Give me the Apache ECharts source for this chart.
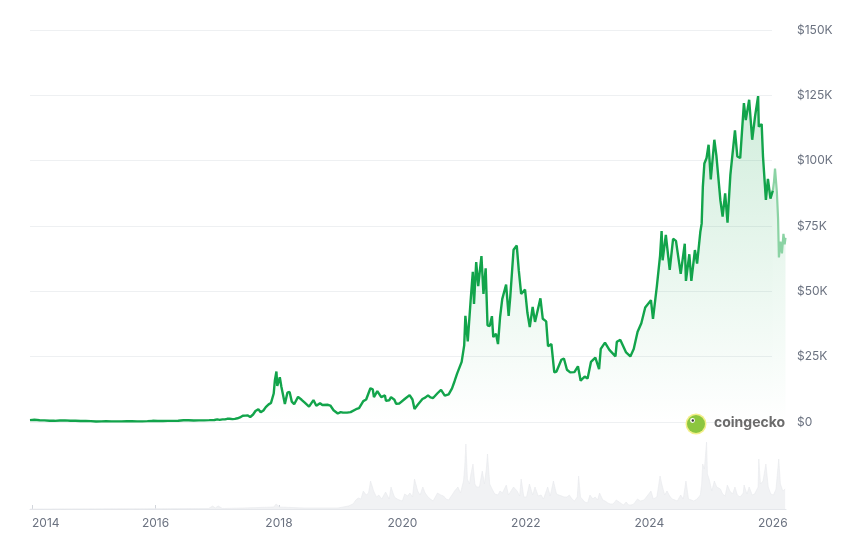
<!DOCTYPE html>
<html><head><meta charset="utf-8">
<script src="https://cdn.jsdelivr.net/npm/echarts@6/dist/echarts.min.js"></script>
<style>html,body{margin:0;padding:0;background:#fff}#c{width:857px;height:544px}</style>
</head><body><div id="c"></div>
<script>
// Bitcoin price (USD) – history up to end of 2025
const priceHistory = [
['2013-12-20',700],['2014-01-15',850],['2014-02-15',650],['2014-03-15',630],['2014-04-15',500],['2014-05-15',450],
['2014-06-15',600],['2014-07-15',620],['2014-08-15',500],['2014-09-15',470],['2014-10-15',390],['2014-11-15',400],
['2014-12-15',350],['2015-01-15',210],['2015-02-15',235],['2015-03-15',285],['2015-04-15',225],['2015-05-15',237],
['2015-06-15',236],['2015-07-15',285],['2015-08-15',260],['2015-09-15',230],['2015-10-15',255],['2015-11-15',330],
['2015-12-15',450],['2016-01-15',390],['2016-02-15',400],['2016-03-15',415],['2016-04-15',430],['2016-05-15',455],
['2016-06-15',690],['2016-07-15',665],['2016-08-15',570],['2016-09-15',610],['2016-10-15',640],['2016-11-15',710],
['2016-12-15',780],['2017-01-01',1000],['2017-01-15',820],['2017-02-01',990],['2017-02-15',1010],['2017-03-01',1220],
['2017-03-15',1250],['2017-04-01',1080],['2017-04-15',1180],['2017-05-01',1420],['2017-05-15',1730],['2017-06-01',2400],
['2017-06-12',2950],['2017-06-15',2450],['2017-07-01',2500],['2017-07-15',1920],['2017-08-01',2870],['2017-08-15',4200],
['2017-09-01',4900],['2017-09-15',3700],['2017-10-01',4400],['2017-10-15',5700],['2017-11-01',6750],['2017-11-15',7300],
['2017-12-01',10900],['2017-12-08',16000],['2017-12-17',19300],['2017-12-22',13800],['2018-01-06',17100],['2018-01-15',13600],
['2018-02-05',6900],['2018-02-20',11200],['2018-03-05',11500],['2018-03-18',7800],['2018-04-01',6800],['2018-04-24',9600],
['2018-05-15',8500],['2018-06-01',7500],['2018-06-28',5900],['2018-07-24',8400],['2018-08-10',6200],['2018-09-01',7200],
['2018-09-15',6500],['2018-10-15',6600],['2018-11-01',6300],['2018-11-20',4500],['2018-12-15',3250],['2019-01-01',3800],
['2019-01-15',3600],['2019-02-08',3600],['2019-03-01',3800],['2019-04-02',4900],['2019-04-20',5300],['2019-05-15',8000],
['2019-06-01',8600],['2019-06-26',12900],['2019-07-10',12500],['2019-07-17',9500],['2019-08-06',11800],['2019-08-29',9500],
['2019-09-20',10200],['2019-09-26',8100],['2019-10-15',8300],['2019-10-26',9500],['2019-11-15',8500],['2019-11-25',7000],
['2019-12-15',7100],['2020-01-15',8800],['2020-02-13',10300],['2020-03-01',8600],['2020-03-13',5000],['2020-04-01',6600],
['2020-04-29',8800],['2020-05-15',9300],['2020-06-01',10200],['2020-06-15',9400],['2020-07-01',9200],['2020-07-27',11000],
['2020-08-17',12300],['2020-09-08',10100],['2020-10-01',10600],['2020-10-21',12900],['2020-11-05',15600],['2020-11-20',18500],
['2020-12-01',19000],['2020-12-17',23000],['2021-01-01',29300],['2021-01-08',40600],['2021-01-22',30800],['2021-02-08',46400],
['2021-02-21',57500],['2021-02-28',45200],['2021-03-13',61200],['2021-03-25',52000],['2021-04-13',63500],['2021-04-25',49000],
['2021-05-08',58800],['2021-05-19',37000],['2021-06-01',36700],['2021-06-14',40500],['2021-06-22',32500],['2021-07-08',33800],
['2021-07-20',29800],['2021-08-01',39900],['2021-08-14',47000],['2021-09-06',52600],['2021-09-21',40600],['2021-10-01',48200],
['2021-10-20',65900],['2021-11-08',67500],['2021-11-20',58000],['2021-12-04',49000],['2021-12-27',50700],['2022-01-10',41800],
['2022-01-24',36300],['2022-02-10',44000],['2022-02-24',38300],['2022-03-28',47300],['2022-04-11',39500],['2022-05-01',38500],
['2022-05-12',29000],['2022-06-01',29800],['2022-06-18',19000],['2022-07-01',19300],['2022-07-30',23800],['2022-08-14',24300],
['2022-09-01',20000],['2022-09-20',19000],['2022-10-15',19100],['2022-11-05',21300],['2022-11-21',15800],['2022-12-15',17400],
['2023-01-01',16600],['2023-01-21',23000],['2023-02-16',24600],['2023-03-10',20200],['2023-03-20',28000],['2023-04-14',30400],
['2023-05-10',27600],['2023-06-15',25100],['2023-06-23',30700],['2023-07-14',31400],['2023-08-17',26600],['2023-09-11',25100],
['2023-10-01',27900],['2023-10-24',34500],['2023-11-15',37800],['2023-12-08',43800],['2024-01-11',46600],['2024-01-23',39500],
['2024-02-15',52000],['2024-03-05',63700],['2024-03-14',73100],['2024-03-20',61900],['2024-04-08',71600],['2024-05-01',58200],
['2024-05-21',70100],['2024-06-07',69300],['2024-07-05',56700],['2024-07-29',68200],['2024-08-05',54000],['2024-08-25',64200],
['2024-09-06',54000],['2024-09-27',65800],['2024-10-10',60600],['2024-10-29',72700],['2024-11-06',75900],['2024-11-13',90000],
['2024-11-22',98900],['2024-12-05',101000],['2024-12-17',106100],['2024-12-30',92800],['2025-01-20',108000],['2025-02-01',102000],
['2025-02-25',84700],['2025-03-10',78600],['2025-03-25',87500],['2025-04-08',76300],['2025-04-25',94700],['2025-05-22',111600],
['2025-06-05',101600],['2025-06-22',101000],['2025-07-14',122000],['2025-07-25',115500],['2025-08-14',123300],['2025-09-01',108000],
['2025-09-18',117000],['2025-10-06',124700],['2025-10-10',113000],['2025-10-27',114000],['2025-11-04',101500],['2025-11-21',85000],
['2025-12-03',93000],['2025-12-18',85500],['2026-01-01',88500]
];
// 2026 segment (lighter)
const priceRecent = [
['2026-01-01',88500],['2026-01-08',92000],['2026-01-14',97000],['2026-01-25',88000],['2026-02-01',78000],['2026-02-06',63000],
['2026-02-15',69000],['2026-02-24',64500],['2026-03-05',72000],['2026-03-12',68000],['2026-03-17',70500]
];
// Trading volume (relative units)
const volumeData = [
['2013-12-20',0],['2016-11-10',0.5],['2016-12-05',3],['2016-12-20',1],['2017-01-06',3],['2017-02-01',0.5],['2017-06-01',1],
['2017-12-01',2],['2017-12-15',5],['2018-01-05',2],['2018-06-01',1],['2018-12-15',1],['2019-01-15',2],['2019-02-15',3],
['2019-03-15',5],['2019-04-01',9],['2019-04-15',11],['2019-05-01',10],['2019-05-15',18],['2019-06-01',14],['2019-06-15',16],
['2019-06-27',28],['2019-07-15',18],['2019-08-01',12],['2019-08-15',14],['2019-09-01',10],['2019-09-24',17],['2019-10-15',10],
['2019-10-26',22],['2019-11-15',12],['2019-12-01',10],['2019-12-15',9],['2020-01-01',8],['2020-01-15',15],['2020-02-01',13],
['2020-02-15',16],['2020-03-01',12],['2020-03-13',30],['2020-04-01',18],['2020-04-15',14],['2020-05-01',22],['2020-05-15',16],
['2020-06-01',12],['2020-06-15',10],['2020-07-01',8],['2020-07-27',16],['2020-08-15',14],['2020-09-01',13],['2020-09-15',10],
['2020-10-01',9],['2020-10-21',14],['2020-11-05',18],['2020-11-25',22],['2020-12-10',16],['2020-12-28',28],['2021-01-04',42],
['2021-01-11',65],['2021-01-20',30],['2021-02-01',25],['2021-02-10',35],['2021-02-22',45],['2021-03-05',25],['2021-03-15',22],
['2021-04-01',22],['2021-04-18',38],['2021-05-01',25],['2021-05-12',40],['2021-05-19',55],['2021-06-01',25],['2021-06-15',20],
['2021-07-01',15],['2021-07-20',14],['2021-08-01',18],['2021-08-15',16],['2021-09-07',24],['2021-09-20',14],['2021-10-01',16],
['2021-10-20',22],['2021-11-10',18],['2021-11-25',13],['2021-12-04',30],['2021-12-20',12],['2022-01-05',12],['2022-01-22',25],
['2022-02-10',14],['2022-02-24',22],['2022-03-15',13],['2022-04-01',14],['2022-04-15',10],['2022-05-10',22],['2022-05-25',13],
['2022-06-13',28],['2022-07-01',15],['2022-07-15',14],['2022-08-01',13],['2022-08-15',12],['2022-09-01',12],['2022-09-15',14],
['2022-10-01',10],['2022-10-15',8],['2022-11-01',12],['2022-11-09',33],['2022-11-20',12],['2022-12-15',7],['2023-01-01',6],
['2023-01-15',14],['2023-02-01',10],['2023-02-15',12],['2023-03-01',9],['2023-03-13',16],['2023-04-01',9],['2023-04-15',8],
['2023-05-01',6],['2023-05-15',5],['2023-06-01',5],['2023-06-20',9],['2023-07-15',6],['2023-08-01',4],['2023-08-17',7],
['2023-09-01',4],['2023-09-15',4],['2023-10-01',5],['2023-10-23',10],['2023-11-10',8],['2023-12-01',9],['2023-12-15',12],
['2024-01-11',18],['2024-01-25',10],['2024-02-15',12],['2024-03-05',33],['2024-03-15',25],['2024-04-01',14],['2024-04-15',18],
['2024-05-01',13],['2024-05-15',10],['2024-06-01',9],['2024-06-15',8],['2024-07-05',14],['2024-07-20',10],['2024-08-05',28],
['2024-08-20',10],['2024-09-06',9],['2024-09-20',8],['2024-10-10',10],['2024-10-29',14],['2024-11-06',25],['2024-11-12',45],
['2024-11-22',40],['2024-12-05',67],['2024-12-10',35],['2024-12-20',30],['2025-01-05',18],['2025-01-20',28],['2025-02-03',22],
['2025-02-25',20],['2025-03-10',15],['2025-03-25',13],['2025-04-07',24],['2025-04-22',18],['2025-05-08',15],['2025-05-22',22],
['2025-06-05',14],['2025-06-22',12],['2025-07-10',16],['2025-07-15',24],['2025-08-01',15],['2025-08-14',22],['2025-09-01',14],
['2025-09-15',15],['2025-10-06',22],['2025-10-10',50],['2025-10-20',25],['2025-11-04',28],['2025-11-14',38],['2025-11-21',45],
['2025-12-05',22],['2025-12-20',15],['2026-01-05',14],['2026-01-20',20],['2026-02-05',50],['2026-02-15',25],['2026-03-01',18],
['2026-03-15',20]
];
const yTicks = [0, 25000, 50000, 75000, 100000, 125000, 150000];
const xTickYears = [2014, 2016, 2018, 2020, 2022, 2024, 2026];

const xMin = '2013-12-20', xMax = '2026-03-20';
// decimal-year equivalent of the time range (for the year-label axis)
function decYear(s) {
  const d = new Date(s), y = d.getFullYear();
  const a = new Date(y, 0, 1).getTime(), b = new Date(y + 1, 0, 1).getTime();
  return y + (d.getTime() - a) / (b - a);
}
const fmtY = v => v === 0 ? '$0' : '$' + (v / 1000) + 'K';
const FONT = 'Inter, "Noto Sans", sans-serif';

const chart = echarts.init(document.getElementById('c'), null, {renderer: 'canvas'});
chart.setOption({
  animation: false,
  backgroundColor: '#ffffff',
  grid: [
    {left: 30, right: 71, top: 30, bottom: 122},   // price
    {left: 30, right: 71, top: 429, bottom: 35},   // volume
    {left: 30, right: 85, top: 30, bottom: 122}    // y axis / split lines
  ],
  xAxis: [
    {type: 'time', gridIndex: 0, min: xMin, max: xMax, show: false},
    {type: 'time', gridIndex: 1, min: xMin, max: xMax, show: false},
    {type: 'value', gridIndex: 2, min: 0, max: 1, show: false},
    {type: 'value', gridIndex: 1, min: decYear(xMin), max: decYear(xMax), position: 'bottom',
     axisLine: {show: true, lineStyle: {color: '#e5e7eb', width: 1}},
     axisTick: {show: true, length: 4, inside: true, customValues: xTickYears, lineStyle: {color: '#d1d5db'}},
     splitLine: {show: false},
     axisLabel: {customValues: xTickYears, color: '#6b7280', fontSize: 12, margin: 8, fontFamily: FONT,
       alignMinLabel: 'left', formatter: v => String(Math.round(v))}}
  ],
  yAxis: [
    {type: 'value', gridIndex: 0, min: 0, max: 150000, show: false},
    {type: 'value', gridIndex: 1, min: 0, max: 80, show: false},
    {type: 'value', gridIndex: 2, min: 0, max: 150000, interval: 25000, position: 'right',
     axisLine: {show: false}, axisTick: {show: false},
     splitLine: {show: true, lineStyle: {color: '#eef0f2', width: 1}},
     axisLabel: {color: '#6b7280', fontSize: 12, margin: 25, fontFamily: FONT, formatter: fmtY}}
  ],
  series: [
    {type: 'line', name: 'Volume', xAxisIndex: 1, yAxisIndex: 1, data: volumeData,
     symbol: 'none', lineStyle: {width: 0.6, color: '#e8eaed'},
     areaStyle: {color: '#f1f2f4', opacity: 1}, z: 1},
    {type: 'line', name: 'Price', xAxisIndex: 0, yAxisIndex: 0, data: priceHistory,
     symbol: 'none', lineStyle: {width: 2.4, color: '#12a44b'},
     areaStyle: {color: new echarts.graphic.LinearGradient(0, 0, 0, 1, [
       {offset: 0, color: 'rgba(18,164,75,0.28)'},
       {offset: 1, color: 'rgba(18,164,75,0.0)'}
     ])}, z: 3},
    {type: 'line', name: 'Price 2026', xAxisIndex: 0, yAxisIndex: 0, data: priceRecent,
     symbol: 'none', lineStyle: {width: 2.2, color: '#8bd3a4'},
     areaStyle: {color: new echarts.graphic.LinearGradient(0, 0, 0, 1, [
       {offset: 0, color: 'rgba(18,164,75,0.2)'},
       {offset: 1, color: 'rgba(18,164,75,0.0)'}
     ])}, z: 2}
  ],
  graphic: [
    {type: 'circle', shape: {cx: 696, cy: 424, r: 10.5}, style: {fill: '#f3ef8a'}, z: 10},
    {type: 'circle', shape: {cx: 696, cy: 424, r: 9}, style: {fill: '#8cc63f'}, z: 11},
    {type: 'circle', shape: {cx: 692.5, cy: 420.5, r: 2.4}, style: {fill: '#ffffff'}, z: 12},
    {type: 'circle', shape: {cx: 692.8, cy: 420.5, r: 1.2}, style: {fill: '#333333'}, z: 13},
    {type: 'text', left: 714, top: 416, z: 12,
     style: {text: 'coingecko', fill: '#6b6b6b', font: 'bold 14px ' + FONT}}
  ]
});
</script>
</body></html>
